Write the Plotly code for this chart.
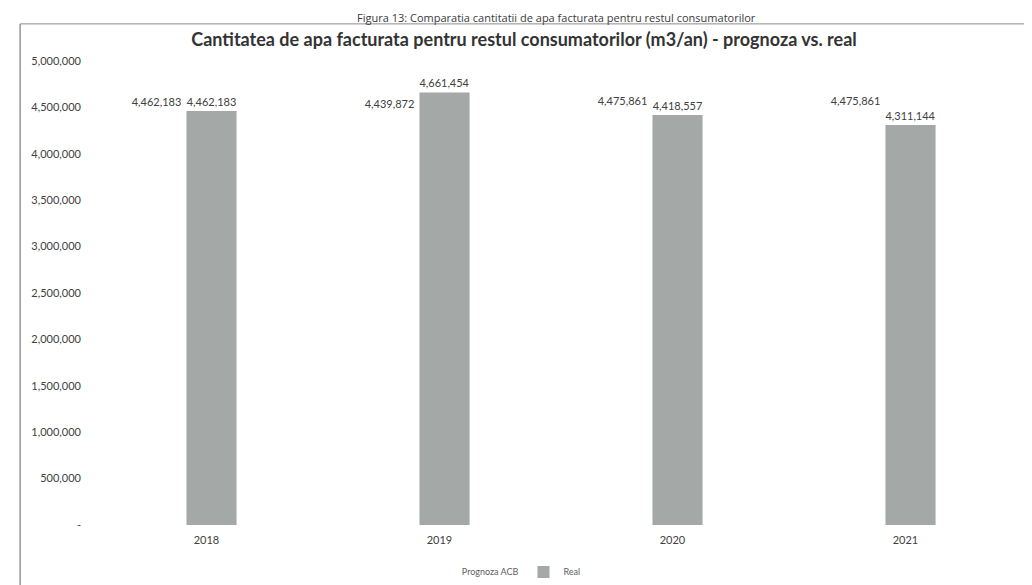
import plotly.graph_objects as go

# data
years = ["2018", "2019", "2020", "2021"]
prognoza_acb = [4462183, 4439872, 4475861, 4475861]
real = [4462183, 4661454, 4418557, 4311144]

y_tick_vals = [0, 500000, 1000000, 1500000, 2000000, 2500000, 3000000,
               3500000, 4000000, 4500000, 5000000]
y_tick_text = ["-", "500,000", "1,000,000", "1,500,000", "2,000,000", "2,500,000",
               "3,000,000", "3,500,000", "4,000,000", "4,500,000", "5,000,000"]

TITLE = "Cantitatea de apa facturata pentru restul consumatorilor (m3/an) - prognoza vs. real"
CAPTION = "Figura 13: Comparatia cantitatii de apa facturata pentru restul consumatorilor"

BAR_GRAY = "#a4a8a7"
TEXT_GRAY = "#404040"
FONT = "Lato, Open Sans, sans-serif"

fig = go.Figure()

# bar width / offsets in category units (1 category = ~233 px)
fig.add_trace(
    go.Bar(
        x=years,
        y=prognoza_acb,
        name="Prognoza ACB",
        width=0.215,
        offset=-0.322,
        marker=dict(color="rgba(255,255,255,0)", line=dict(width=0)),
        text=[f"{v:,}" for v in prognoza_acb],
        textposition="outside",
        textfont=dict(size=11, color=TEXT_GRAY),
        cliponaxis=False,
    )
)
fig.add_trace(
    go.Bar(
        x=years,
        y=real,
        name="Real",
        width=0.215,
        offset=-0.086,
        marker=dict(color=BAR_GRAY, line=dict(width=0)),
        text=[f"{v:,}" for v in real],
        textposition="outside",
        textfont=dict(size=11, color=TEXT_GRAY),
        cliponaxis=False,
    )
)

# outer frame of the scanned figure
fig.add_shape(
    type="line", xref="paper", yref="paper",
    x0=-0.075, x1=1.05, y0=1.080, y1=1.080,
    line=dict(color="#8a8a8a", width=1),
)
fig.add_shape(
    type="line", xref="paper", yref="paper",
    x0=-0.075, x1=-0.075, y0=1.080, y1=-0.2,
    line=dict(color="#7a7a7a", width=1.2),
)

# caption at the top of the scan
fig.add_annotation(
    text=CAPTION, xref="paper", yref="paper",
    x=0.5, y=1.114, xanchor="center", yanchor="top",
    showarrow=False,
    font=dict(family="Open Sans, sans-serif", size=11, color="#3a3a3a"),
)

fig.update_layout(
    width=1032,
    height=585,
    margin=dict(l=82, r=18, t=53, b=68),
    paper_bgcolor="white",
    plot_bgcolor="white",
    font=dict(family=FONT, color=TEXT_GRAY),
    title=dict(
        text=f"<b>{TITLE}</b>",
        x=0.5,
        xanchor="center",
        y=0.946,
        yanchor="middle",
        font=dict(size=18, color="#333333"),
    ),
    barmode="overlay",
    xaxis=dict(
        showline=False,
        showgrid=False,
        ticks="",
        ticklabelstandoff=7,
        tickfont=dict(size=11, color=TEXT_GRAY),
    ),
    yaxis=dict(
        range=[0, 5000000],
        tickvals=y_tick_vals,
        ticktext=y_tick_text,
        showgrid=False,
        zeroline=False,
        showline=False,
        ticks="",
        ticklabelstandoff=8,
        tickfont=dict(size=11, color=TEXT_GRAY),
    ),
    legend=dict(
        orientation="h",
        x=0.444,
        xanchor="center",
        yref="container",
        y=0.036,
        yanchor="middle",
        font=dict(size=9, color="#606060"),
        itemwidth=30,
    ),
    showlegend=True,
)

fig.write_html("out.html")
